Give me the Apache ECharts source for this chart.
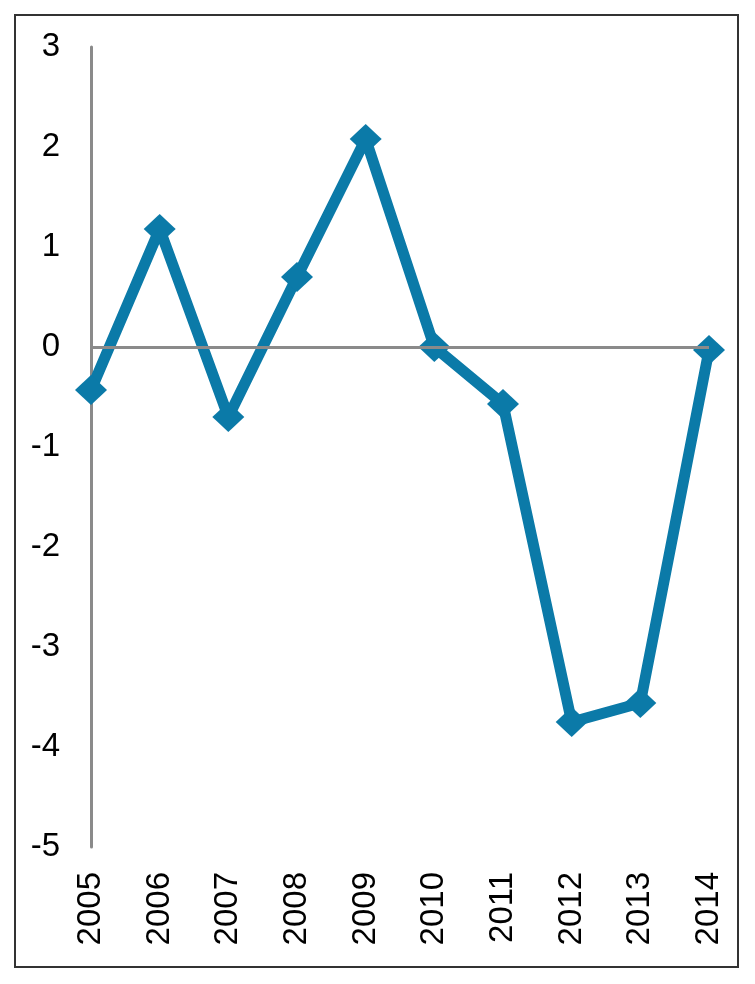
<!DOCTYPE html>
<html>
<head>
<meta charset="utf-8">
<script src="https://cdn.jsdelivr.net/npm/echarts@6/dist/echarts.min.js"></script>
<style>
  html, body { margin: 0; padding: 0; background: #fff; }
  #chart { width: 755px; height: 984px; }
</style>
</head>
<body>
<div id="chart"></div>
<script>
const years = ['2005', '2006', '2007', '2008', '2009', '2010', '2011', '2012', '2013', '2014'];
const values = [-0.43, 1.18, -0.70, 0.70, 2.08, 0.0, -0.57, -3.75, -3.56, -0.03];
const yMin = -5;
const yMax = 3;

const chart = echarts.init(document.getElementById('chart'));

const option = {
  animation: false,
  backgroundColor: '#fff',
  textStyle: { fontFamily: 'Liberation Sans, Arial, sans-serif' },
  graphic: [
    {
      type: 'rect',
      shape: { x: 15, y: 15, width: 723, height: 952 },
      style: { fill: 'none', stroke: '#333', lineWidth: 2 },
      silent: true,
    },
  ],
  grid: { left: 91, right: 46, top: 47, bottom: 137 },
  xAxis: {
    type: 'category',
    data: years,
    boundaryGap: false,
    axisLine: { show: false },
    axisTick: { show: false },
    axisLabel: {
      rotate: 90,
      margin: 25,
      fontSize: 33,
      color: '#000',
      interval: 0,
    },
  },
  yAxis: {
    type: 'value',
    min: yMin,
    max: yMax,
    interval: 1,
    axisLine: { show: true, lineStyle: { color: '#8a8a8a', width: 3 } },
    axisTick: { show: false },
    splitLine: { show: false },
    axisLabel: { margin: 31, fontSize: 33, color: '#000' },
  },
  series: [
    {
      type: 'line',
      data: [],
      z: 1,
      markLine: {
        silent: true,
        symbol: 'none',
        label: { show: false },
        lineStyle: { color: '#8a8a8a', width: 3, type: 'solid' },
        data: [{ yAxis: 0 }],
      },
    },
    {
      type: 'line',
      data: values,
      z: 3,
      symbol: 'diamond',
      symbolSize: [32, 30],
      lineStyle: { color: '#0b7aa8', width: 11, join: 'round' },
      itemStyle: { color: '#0b7aa8' },
    },
  ],
};

chart.setOption(option);
</script>
</body>
</html>
